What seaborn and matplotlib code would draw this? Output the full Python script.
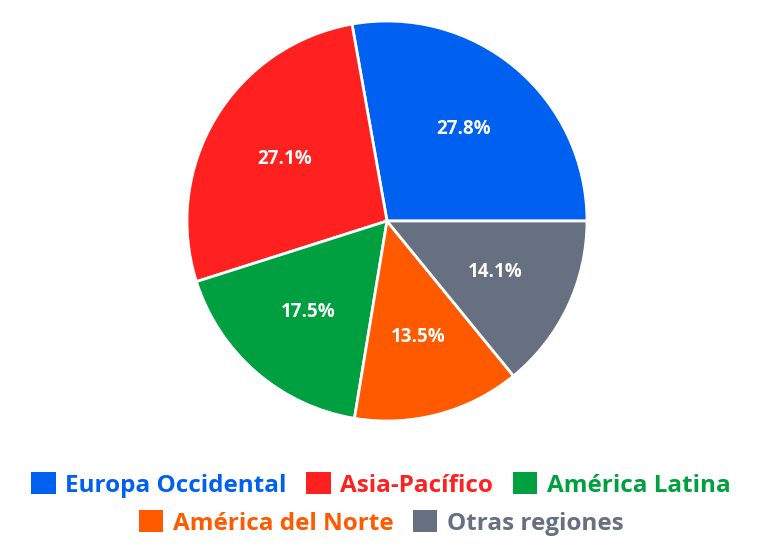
import seaborn as sns
import matplotlib.pyplot as plt
from matplotlib.patches import Patch

# datos
regiones = ['Europa Occidental', 'Asia-Pacífico', 'América Latina',
            'América del Norte', 'Otras regiones']
porcentajes = [27.8, 27.1, 17.5, 13.5, 14.1]
colores = ['#0061f0', '#ff2020', '#00a040', '#ff5a00', '#667080']

sns.set_theme(style='white')
plt.rcParams['font.family'] = ['Open Sans', 'DejaVu Sans']
paleta = sns.color_palette(colores)

fig = plt.figure(figsize=(7.62, 5.48), dpi=100)
ax = fig.add_axes([187 / 762, 127 / 548, 400 / 762, 400 / 548])

wedges, texts, autotexts = ax.pie(
    porcentajes, colors=paleta, startangle=0, counterclock=True,
    autopct='%1.1f%%', pctdistance=0.6,
    wedgeprops={'edgecolor': 'white', 'linewidth': 2},
    textprops={'color': 'white', 'fontsize': 13.5, 'fontweight': 'bold'})
ax.set_xlim(-1, 1)
ax.set_ylim(-1, 1)
ax.set_aspect('equal')

# leyenda en dos filas centradas
handles = [Patch(facecolor=c, edgecolor='none') for c in paleta]
kw = dict(frameon=False, handlelength=1.0, handleheight=1.0, handletextpad=0.4,
          columnspacing=0.8, prop={'size': 17.5, 'weight': 'bold'},
          loc='center', borderaxespad=0)
leg1 = fig.legend(handles[:3], regiones[:3], ncol=3,
                  bbox_to_anchor=(0.5, 1 - 485 / 548), **kw)
leg2 = fig.legend(handles[3:], regiones[3:], ncol=2,
                  bbox_to_anchor=(0.5, 1 - 523 / 548), **kw)
for leg, cols in ((leg1, paleta[:3]), (leg2, paleta[3:])):
    for t, c in zip(leg.get_texts(), cols):
        t.set_color(c)

plt.savefig('out.png', dpi=100)
